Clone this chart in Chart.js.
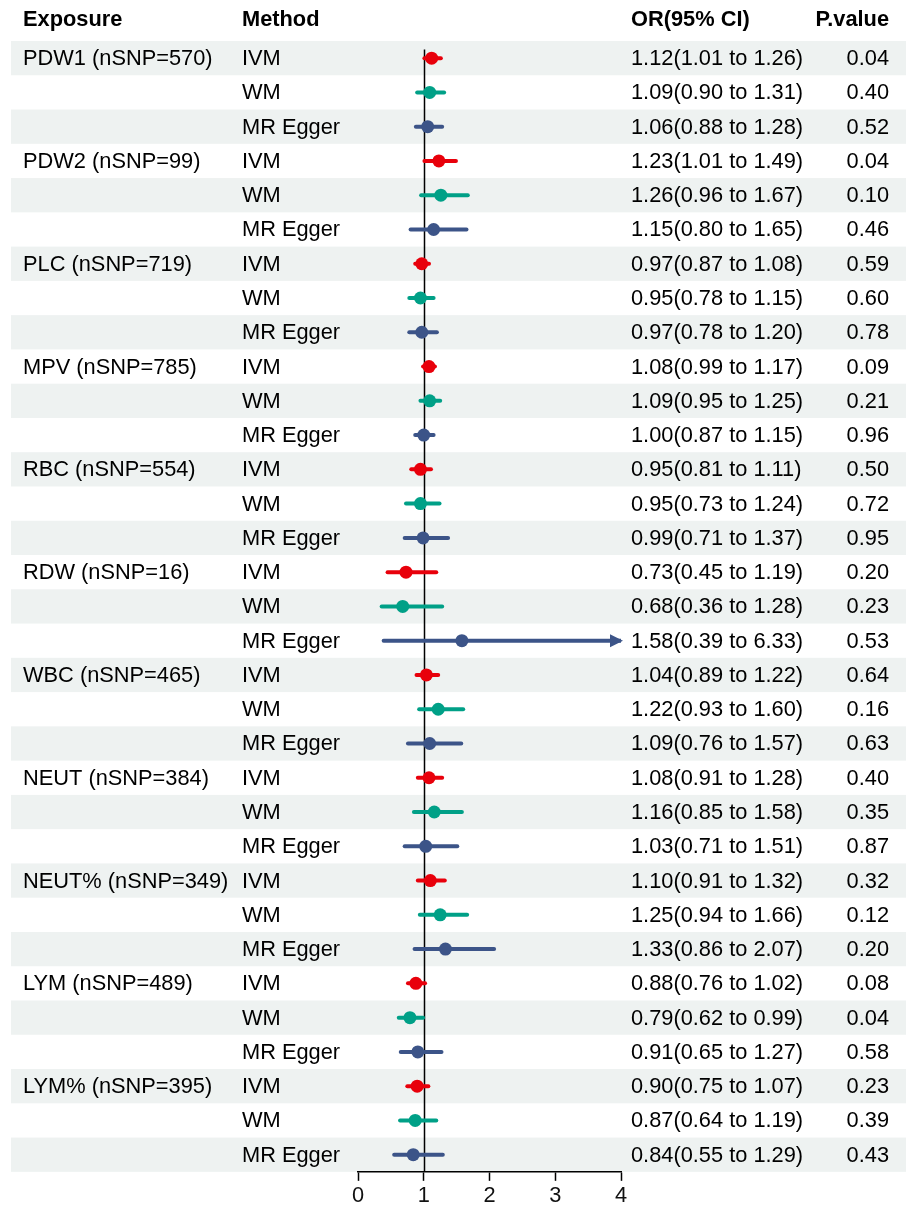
<!DOCTYPE html>
<html>
<head>
<meta charset="utf-8">
<script src="https://cdn.jsdelivr.net/npm/chart.js@4/dist/chart.umd.min.js"></script>
<style>
  html, body { margin: 0; padding: 0; background: #fff; }
  #wrap { width: 909px; height: 1209px; position: relative; }
</style>
</head>
<body>
<div id="wrap"><canvas id="forest"></canvas></div>
<script>
// Forest plot data (one entry per exposure, three methods each)
const exposures = ['PDW1', 'PDW2', 'PLC', 'MPV', 'RBC', 'RDW', 'WBC', 'NEUT', 'NEUT%', 'LYM', 'LYM%'];
const nSNP = [570, 99, 719, 785, 554, 16, 465, 384, 349, 489, 395];
const methods = ['IVM', 'WM', 'MR Egger'];

const orValues = [
    1.12, 1.09, 1.06,
    1.23, 1.26, 1.15,
    0.97, 0.95, 0.97,
    1.08, 1.09, 1.00,
    0.95, 0.95, 0.99,
    0.73, 0.68, 1.58,
    1.04, 1.22, 1.09,
    1.08, 1.16, 1.03,
    1.10, 1.25, 1.33,
    0.88, 0.79, 0.91,
    0.90, 0.87, 0.84
];
const ciLower = [
    1.01, 0.90, 0.88,
    1.01, 0.96, 0.80,
    0.87, 0.78, 0.78,
    0.99, 0.95, 0.87,
    0.81, 0.73, 0.71,
    0.45, 0.36, 0.39,
    0.89, 0.93, 0.76,
    0.91, 0.85, 0.71,
    0.91, 0.94, 0.86,
    0.76, 0.62, 0.65,
    0.75, 0.64, 0.55
];
const ciUpper = [
    1.26, 1.31, 1.28,
    1.49, 1.67, 1.65,
    1.08, 1.15, 1.20,
    1.17, 1.25, 1.15,
    1.11, 1.24, 1.37,
    1.19, 1.28, 6.33,
    1.22, 1.60, 1.57,
    1.28, 1.58, 1.51,
    1.32, 1.66, 2.07,
    1.02, 0.99, 1.27,
    1.07, 1.19, 1.29
];
const pValues = [
    '0.04', '0.40', '0.52',
    '0.04', '0.10', '0.46',
    '0.59', '0.60', '0.78',
    '0.09', '0.21', '0.96',
    '0.50', '0.72', '0.95',
    '0.20', '0.23', '0.53',
    '0.64', '0.16', '0.63',
    '0.40', '0.35', '0.87',
    '0.32', '0.12', '0.20',
    '0.08', '0.04', '0.58',
    '0.23', '0.39', '0.43'
];
const xTicks = [0, 1, 2, 3, 4];

const methodColors = ['#e8000b', '#00a087', '#3c5488'];
const stripeColor = '#eef2f1';
const FONT = '"Liberation Sans", Arial, sans-serif';
const FS = 21.8;

const X_MAX = xTicks[xTicks.length - 1];
const nRows = orValues.length;
const rowColor = i => methodColors[i % 3];

// one short line dataset per CI (clipped at the axis max, arrow added by plugin)
const ciDatasets = orValues.map((v, i) => ({
    type: 'line',
    data: [{ x: ciLower[i], y: i }, { x: Math.min(ciUpper[i], X_MAX), y: i }],
    borderColor: rowColor(i),
    borderWidth: 4,
    borderCapStyle: 'round',
    pointRadius: 0,
    order: 2
}));

const pointDataset = {
    type: 'scatter',
    data: orValues.map((v, i) => ({ x: v, y: i })),
    pointRadius: 6.5,
    pointBackgroundColor: orValues.map((v, i) => rowColor(i)),
    pointBorderWidth: 0,
    order: 1
};

const fmt = v => v.toFixed(2);

const forestPlugin = {
    id: 'forestTable',
    beforeDraw(chart) {
        const ctx = chart.ctx;
        const y = chart.scales.y;
        ctx.save();
        ctx.fillStyle = stripeColor;
        for (let i = 0; i < nRows; i += 2) {
            const top = y.getPixelForValue(i - 0.5);
            const bot = y.getPixelForValue(i + 0.5);
            ctx.fillRect(11, top, 906 - 11, bot - top);
        }
        ctx.restore();
    },
    beforeDatasetsDraw(chart) {
        const ctx = chart.ctx;
        const x = chart.scales.x;
        const y = chart.scales.y;
        ctx.save();
        ctx.strokeStyle = '#000';
        ctx.lineWidth = 1.5;
        const x1 = Math.round(x.getPixelForValue(1)) + 0.5;
        ctx.beginPath();
        ctx.moveTo(x1, y.getPixelForValue(-0.25));
        ctx.lineTo(x1, chart.chartArea.bottom);
        ctx.stroke();
        ctx.restore();
    },
    afterDatasetsDraw(chart) {
        const ctx = chart.ctx;
        const x = chart.scales.x;
        const y = chart.scales.y;
        ctx.save();
        // arrow heads for CIs running past the axis
        orValues.forEach((v, i) => {
            if (ciUpper[i] <= X_MAX) return;
            const px = x.getPixelForValue(X_MAX);
            const py = y.getPixelForValue(i);
            ctx.fillStyle = rowColor(i);
            ctx.beginPath();
            ctx.moveTo(px + 2, py);
            ctx.lineTo(px - 11, py - 6.5);
            ctx.lineTo(px - 11, py + 6.5);
            ctx.closePath();
            ctx.fill();
        });

        // table text
        ctx.fillStyle = '#000';
        ctx.textBaseline = 'middle';
        ctx.font = `bold ${FS}px ${FONT}`;
        ctx.textAlign = 'left';
        const hy = 20;
        ctx.fillText('Exposure', 23, hy);
        ctx.fillText('Method', 242, hy);
        ctx.fillText('OR(95% CI)', 631, hy);
        ctx.textAlign = 'right';
        ctx.fillText('P.value', 889, hy);

        ctx.font = `${FS}px ${FONT}`;
        orValues.forEach((v, i) => {
            const py = y.getPixelForValue(i) + 1;
            ctx.textAlign = 'left';
            if (i % 3 === 0) {
                const e = i / 3;
                ctx.fillText(`${exposures[e]} (nSNP=${nSNP[e]})`, 23, py);
            }
            ctx.fillText(methods[i % 3], 242, py);
            ctx.fillText(`${fmt(v)}(${fmt(ciLower[i])} to ${fmt(ciUpper[i])})`, 631, py);
            ctx.textAlign = 'right';
            ctx.fillText(pValues[i], 889, py);
        });
        ctx.restore();
    }
};

new Chart(document.getElementById('forest'), {
    data: { datasets: [pointDataset, ...ciDatasets] },
    options: {
        responsive: true,
        maintainAspectRatio: false,
        animation: false,
        events: [],
        layout: {
            autoPadding: false,
            padding: { left: 358, right: 288, top: 41, bottom: -2 }
        },
        plugins: {
            legend: { display: false },
            tooltip: { enabled: false }
        },
        scales: {
            x: {
                type: 'linear',
                min: xTicks[0],
                max: X_MAX,
                afterBuildTicks: axis => { axis.ticks = xTicks.map(v => ({ value: v })); },
                border: { display: true, color: '#000', width: 1.5 },
                grid: { drawOnChartArea: false, drawTicks: true, tickLength: 9, color: '#000', tickWidth: 1.5 },
                ticks: { color: '#111', padding: 2, font: { family: FONT, size: FS } }
            },
            y: {
                type: 'linear',
                display: false,
                reverse: true,
                min: -0.5,
                max: nRows - 0.5
            }
        }
    },
    plugins: [forestPlugin]
});
</script>
</body>
</html>
